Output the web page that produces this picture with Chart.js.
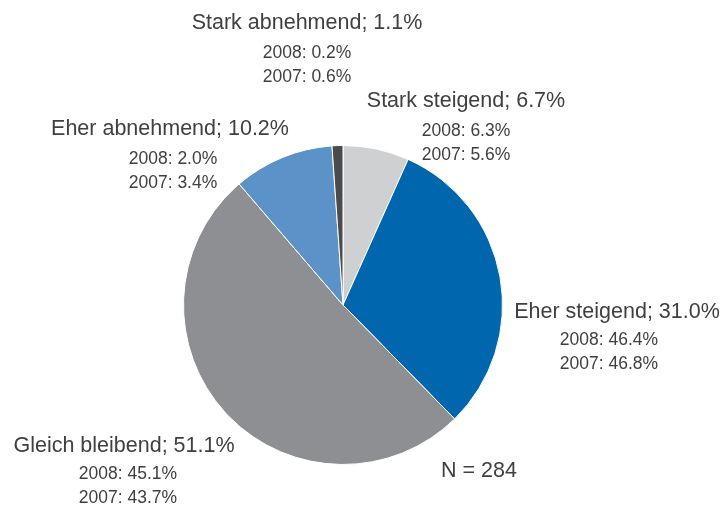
<!DOCTYPE html>
<html>
<head>
<meta charset="utf-8">
<script src="https://cdn.jsdelivr.net/npm/chart.js@4/dist/chart.umd.min.js"></script>
<style>
  html, body { margin: 0; padding: 0; background: #fff; }
  #wrap { width: 726px; height: 505px; position: relative; }
</style>
</head>
<body>
<div id="wrap"><canvas id="grafico"></canvas></div>
<script>
// DADOS
const categories = ["Stark steigend", "Eher steigend", "Gleich bleibend", "Eher abnehmend", "Stark abnehmend"];
const share2009 = [6.7, 31.0, 51.1, 10.2, 1.1];
const share2008 = [6.3, 46.4, 45.1, 2.0, 0.2];
const share2007 = [5.6, 46.8, 43.7, 3.4, 0.6];
const sampleSize = 284;

const colors = ["#cfd0d2", "#0066ae", "#8e8f93", "#5b93c9", "#4a4b4f"];

// label anchor offsets from the pie centre
// (title centre x, title baseline y, sub-line shift x, sub-line gap)
const labelOffsets = [
  [123, -198, 0, 29],
  [274, 13, -8, 27],
  [-219, 147, 4, 27],
  [-173, -170, 3, 29],
  [-36, -276, 0, 29]
];

const labelsPlugin = {
  id: "pieLabels",
  afterDraw(chart) {
    const arc = chart.getDatasetMeta(0).data[0];
    const cx = arc.x, cy = arc.y;
    const c = chart.ctx;
    c.save();
    c.textAlign = "center";
    c.textBaseline = "alphabetic";
    c.fillStyle = "#404040";
    categories.forEach(function (name, i) {
      const o = labelOffsets[i];
      const x = cx + o[0];
      const y = cy + o[1];
      const xs = x + o[2];
      c.font = "21.5px 'Liberation Sans', Arial, sans-serif";
      c.fillText(name + "; " + share2009[i].toFixed(1) + "%", x, y);
      c.font = "17.5px 'Liberation Sans', Arial, sans-serif";
      c.fillText("2008: " + share2008[i].toFixed(1) + "%", xs, y + o[3]);
      c.fillText("2007: " + share2007[i].toFixed(1) + "%", xs, y + o[3] + 23.5);
    });
    c.font = "21.5px 'Liberation Sans', Arial, sans-serif";
    c.fillText("N = " + sampleSize, cx + 136, cy + 172);
    c.restore();
  }
};

new Chart(document.getElementById("grafico"), {
  type: "pie",
  data: {
    labels: categories,
    datasets: [
      {
        data: share2009,
        backgroundColor: colors,
        borderColor: "#ffffff",
        borderWidth: 1
      }
    ]
  },
  options: {
    responsive: true,
    maintainAspectRatio: false,
    animation: false,
    layout: {
      padding: { top: 145, bottom: 40, left: 183, right: 223 }
    },
    plugins: {
      legend: { display: false },
      tooltip: { enabled: false }
    }
  },
  plugins: [labelsPlugin]
});
</script>
</body>
</html>
